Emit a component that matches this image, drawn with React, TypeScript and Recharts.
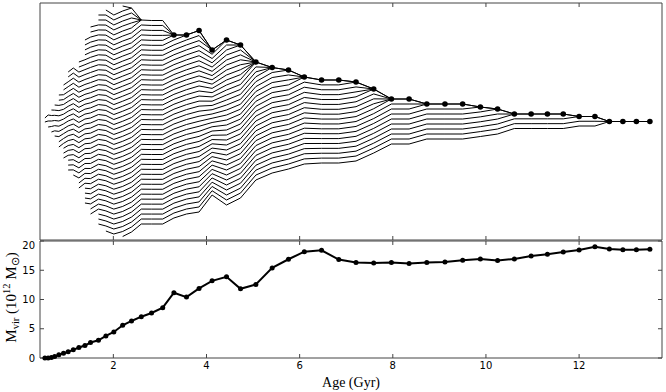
import React from 'react'
import { LineChart, Line, XAxis, YAxis, ReferenceLine } from 'recharts'

// snapshot ages in Gyr (both panels share them)
const ages = [
  0.53, 0.6, 0.67, 0.74, 0.83, 0.93, 1.03, 1.14, 1.26, 1.39, 1.51, 1.68, 1.84, 2.01, 2.2, 2.39, 2.6,
  2.82, 3.06, 3.3, 3.57, 3.84, 4.12, 4.43, 4.73, 5.06, 5.41, 5.76, 6.1, 6.47, 6.84, 7.21, 7.59, 7.97,
  8.35, 8.73, 9.12, 9.5, 9.88, 10.25, 10.61, 10.97, 11.32, 11.66, 12.0, 12.34, 12.65, 12.94, 13.23, 13.52,
]

// virial mass of the main halo (10^12 Msun)
const mvir = [
  0.0, 0.0, 0.1, 0.26, 0.54, 0.82, 1.05, 1.39, 1.79, 2.13, 2.64, 3.03, 3.77, 4.45, 5.59, 6.33, 7.06,
  7.69, 8.6, 11.15, 10.41, 11.89, 13.19, 13.87, 11.83, 12.57, 15.4, 16.88, 18.18, 18.41, 16.82, 16.31,
  16.26, 16.31, 16.14, 16.31, 16.43, 16.71, 16.94, 16.65, 16.94, 17.45, 17.73, 18.13, 18.47, 19.03,
  18.64, 18.52, 18.52, 18.58,
]

// merger tree: upper / lower edge of the branch stack (offset from the final halo) and number of branches
const treeTop = [
  0.7, 1.3, 2.3, 3.3, 5.3, 7.3, 9.9, 10.7, 11.9, 16.3, 18.9, 21.3, 22.3, 21.3, 23.1, 22.7, 20.3, 20.2,
  20.2, 17.3, 17.3, 18.2, 14.3, 16.3, 15.3, 11.9, 10.8, 10.3, 8.9, 8.3, 8.3, 7.9, 6.5, 4.5, 4.5, 3.5,
  3.5, 3.5, 2.9, 2.5, 1.5, 1.5, 1.5, 1.5, 1.0, 1.0, 0, 0, 0, 0,
]
const treeBottom = [
  -0.1, -1.1, -2.1, -2.9, -5.1, -7.3, -9.7, -10.7, -13.3, -16.3, -18.5, -20.5, -21.9, -22.5, -23.0,
  -22.1, -20.5, -20.5, -20.5, -19.3, -18.5, -18.1, -14.7, -16.7, -15.3, -11.7, -10.3, -9.5, -8.5, -8.3,
  -8.3, -7.9, -6.3, -4.5, -4.5, -3.5, -3.5, -3.5, -3.0, -2.5, -1.4, -1.4, -1.4, -1.4, -0.9, -0.9, 0, 0,
  0, 0,
]
const branchCount = [
  2, 3, 5, 7, 11, 16, 21, 22, 26, 34, 38, 43, 45, 45, 47, 46, 42, 42, 42, 38, 37, 37, 35, 34, 32, 25,
  22, 21, 18, 18, 18, 17, 14, 10, 10, 8, 8, 8, 7, 6, 4, 4, 4, 4, 3, 3, 1, 1, 1, 1,
]
// main progenitor gets markers from this snapshot on
const mainFrom = 19

const xTicks = [2, 4, 6, 8, 10, 12]
const xDomain = [0.425, 13.78]
const treeDomain = [-23.7, 23.7]
const mTicks = [0, 5, 10, 15, 20]
const mDomain = [0, 20]

type Pt = { x: number; y: number }

function pt(i: number, k: number): Pt {
  const n = branchCount[i]
  const y = n < 2 ? treeTop[i] : treeTop[i] - (k * (treeTop[i] - treeBottom[i])) / (n - 1)
  return { x: ages[i], y }
}

// follow each branch from snapshot to snapshot; merging branches end on the top one
function buildTracks(): Pt[][] {
  const tracks: Pt[][] = []
  let owner: number[] = []
  for (let k = 0; k < branchCount[0]; k++) {
    tracks.push([pt(0, k)])
    owner.push(tracks.length - 1)
  }
  for (let i = 0; i < ages.length - 1; i++) {
    const a = branchCount[i]
    const b = branchCount[i + 1]
    const next: number[] = new Array(b).fill(-1)
    if (b <= a) {
      const d = a - b
      for (let k = 0; k < a; k++) {
        const j = k <= d ? 0 : k - d
        tracks[owner[k]].push(pt(i + 1, j))
        if (k === 0 || k > d) next[j] = owner[k]
      }
    } else {
      const dt = Math.floor((b - a) / 2)
      for (let k = 0; k < a; k++) {
        tracks[owner[k]].push(pt(i + 1, k + dt))
        next[k + dt] = owner[k]
      }
      for (let j = 0; j < b; j++) {
        if (next[j] < 0) {
          tracks.push([pt(i + 1, j)])
          next[j] = tracks.length - 1
        }
      }
    }
    owner = next
  }
  return tracks.filter((t) => t.length > 1)
}

const tracks = buildTracks()
const mainDots = ages.slice(mainFrom).map((x, i) => ({ x, y: treeTop[i + mainFrom] }))
const massData = ages.map((x, i) => ({ x, m: mvir[i] }))

const frameColor = '#444'
const tickFont = { fontSize: 10, fontFamily: 'DejaVu Sans', fill: '#000' }

// box + inward ticks, drawn in data coordinates (tick lengths are about 4px)
function frame(yDom: number[], yTicks: number[], xLen: number, yLen: number) {
  const [x0, x1] = xDomain
  const [y0, y1] = yDom
  const seg = (a: Pt, b: Pt, key: string, w = 1) => (
    <ReferenceLine key={key} xAxisId="b" yAxisId="l" segment={[a, b]} stroke={frameColor}
      strokeWidth={w} ifOverflow="visible" />
  )
  return [
    seg({ x: x0, y: y0 }, { x: x1, y: y0 }, 'bot'),
    seg({ x: x0, y: y1 }, { x: x1, y: y1 }, 'top'),
    seg({ x: x0, y: y0 }, { x: x0, y: y1 }, 'left'),
    seg({ x: x1, y: y0 }, { x: x1, y: y1 }, 'right'),
    ...xTicks.map((t) => seg({ x: t, y: y0 }, { x: t, y: y0 + yLen }, 'xb' + t)),
    ...xTicks.map((t) => seg({ x: t, y: y1 }, { x: t, y: y1 - yLen }, 'xt' + t)),
    ...yTicks.map((t) => seg({ x: x0, y: t }, { x: x0 + xLen, y: t }, 'yl' + t)),
    ...yTicks.map((t) => seg({ x: x1, y: t }, { x: x1 - xLen, y: t }, 'yr' + t)),
  ]
}

function MvirLabel(props: any) {
  const vb = props.viewBox
  const cx = vb.x + 16
  const cy = vb.y + vb.height / 2 - 2
  return (
    <text
      transform={`translate(${cx},${cy}) rotate(-90)`}
      textAnchor="middle"
      fontFamily="Liberation Serif"
      fontSize={15}
      fill="#000"
    >
      M<tspan fontSize={10.5} dy={3}>vir</tspan>
      <tspan dy={-3}> (10</tspan>
      <tspan fontSize={10.5} dy={-6}>12</tspan>
      <tspan dy={6}> M</tspan>
      <tspan fontSize={10.5} dy={3}>⊙</tspan>
      <tspan dy={-3}>)</tspan>
    </text>
  )
}

export default function App() {
  return (
    <div style={{ position: 'absolute', left: 0, top: 0, width: 666, height: 392, background: '#fff' }}>
      <div style={{ position: 'absolute', left: 0, top: 0 }}>
        <LineChart width={666} height={241} margin={{ top: 3, right: 4, bottom: 1, left: 40 }}>
          <XAxis xAxisId="b" type="number" dataKey="x" domain={xDomain} ticks={xTicks} allowDataOverflow
            height={0} tick={false} axisLine={false} tickLine={false} />
          <YAxis yAxisId="l" type="number" domain={treeDomain} width={0} tick={false} tickLine={false}
            axisLine={false} />
          {tracks.map((t, idx) => (
            <Line key={idx} xAxisId="b" yAxisId="l" data={t} dataKey="y" type="linear" stroke="#000"
              strokeWidth={1} dot={false} isAnimationActive={false} />
          ))}
          <Line xAxisId="b" yAxisId="l" data={mainDots} dataKey="y" type="linear" stroke="#000"
            strokeWidth={1} dot={{ r: 2.8, fill: '#000', stroke: '#000', strokeWidth: 0 }}
            isAnimationActive={false} />
          {frame(treeDomain, [], 0.086, 0.8)}
        </LineChart>
      </div>
      <div style={{ position: 'absolute', left: 0, top: 240 }}>
        <LineChart width={666} height={152} data={massData} margin={{ top: 1, right: 4, bottom: 0, left: 0 }}>
          <XAxis xAxisId="b" type="number" dataKey="x" domain={xDomain} ticks={xTicks} allowDataOverflow
            height={34} tickSize={0} tickMargin={4} tick={tickFont} axisLine={false} tickLine={false}
            label={{ value: 'Age (Gyr)', position: 'insideBottom', offset: 5, fill: '#000',
              fontFamily: 'Liberation Serif', fontSize: 14 }} />
          <YAxis yAxisId="l" type="number" domain={mDomain} ticks={mTicks} width={40}
            tickSize={0} tickMargin={5} tick={tickFont} axisLine={false} tickLine={false}
            label={(p: any) => <MvirLabel {...p} />} />
          <Line xAxisId="b" yAxisId="l" dataKey="m" type="linear" stroke="#000" strokeWidth={2}
            dot={{ r: 2.5, fill: '#000', stroke: '#000', strokeWidth: 0 }} isAnimationActive={false} />
          {frame(mDomain, mTicks, 0.086, 0.68)}
        </LineChart>
      </div>
    </div>
  )
}
